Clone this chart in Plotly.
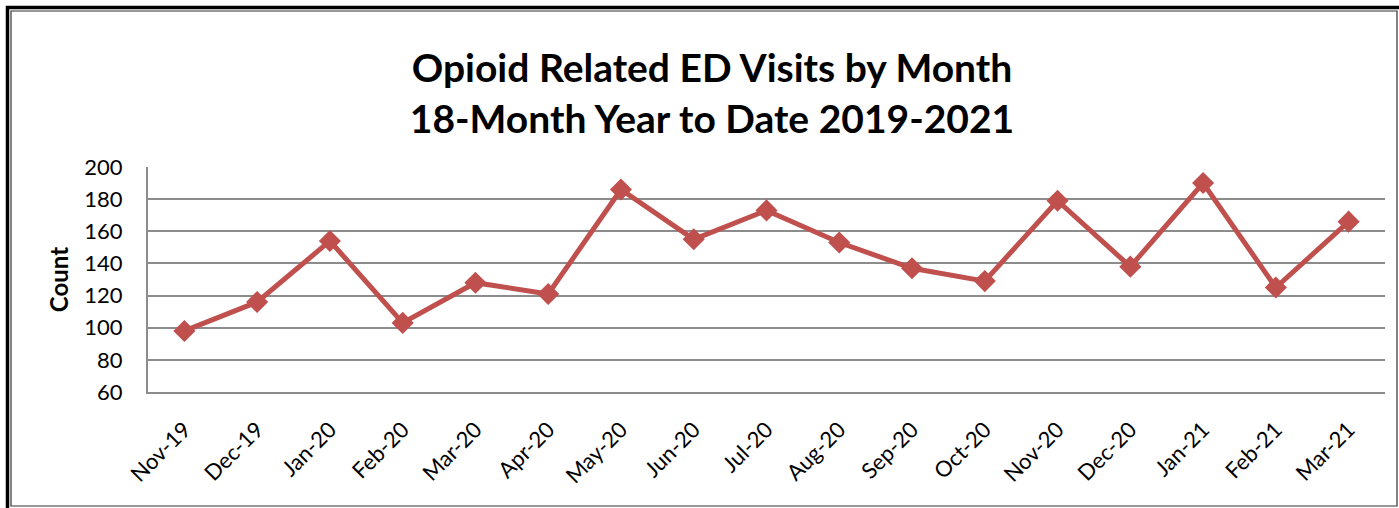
import plotly.graph_objects as go

months = ["Nov-19", "Dec-19", "Jan-20", "Feb-20", "Mar-20", "Apr-20", "May-20", "Jun-20",
          "Jul-20", "Aug-20", "Sep-20", "Oct-20", "Nov-20", "Dec-20", "Jan-21", "Feb-21", "Mar-21"]
counts = [98, 116, 154, 103, 128, 121, 186, 155, 173, 153, 137, 129, 179, 138, 190, 125, 166]
y_ticks = [60, 80, 100, 120, 140, 160, 180, 200]

W, H = 1399, 508
L, R, T, B = 148, 1385, 167, 392


def px(x):
    return (x - L) / (R - L)


def py(y):
    return (B - y) / (B - T)


fig = go.Figure()
fig.add_trace(go.Scatter(
    x=months, y=counts, mode="lines+markers",
    line=dict(color="#C0504D", width=5),
    marker=dict(symbol="diamond", size=17, color="#C0504D"),
    showlegend=False,
))

font = "Lato, Liberation Sans, sans-serif"
fig.update_layout(
    width=W, height=H,
    margin=dict(l=L, r=W - R, t=T, b=H - B, pad=0),
    paper_bgcolor="white", plot_bgcolor="white",
    font=dict(family=font, color="black", size=22),
    title=dict(
        text="<b>Opioid Related ED Visits by Month<br>18-Month Year to Date 2019-2021</b>",
        x=712 / W, xanchor="center", y=1 - 82 / H, yanchor="middle",
        font=dict(size=39, family=font, color="black"),
    ),
    xaxis=dict(
        range=[-0.5, 16.5], tickangle=-45, showgrid=False, zeroline=False,
        showline=True, linecolor="#8C8C8C", linewidth=2,
        ticks="", tickfont=dict(size=22), ticklabelstandoff=14,
    ),
    yaxis=dict(
        range=[60, 200], tickvals=y_ticks, showgrid=True, gridcolor="#8C8C8C", gridwidth=2,
        zeroline=False, showline=True, linecolor="#8C8C8C", linewidth=2,
        ticks="", ticklabelstandoff=19, tickfont=dict(size=22),
        title=dict(text="<b>Count</b>", font=dict(size=24), standoff=9),
    ),
    shapes=[
        dict(type="rect", xref="paper", yref="paper",
             x0=px(7.5), x1=px(1402), y0=py(7.5), y1=py(512),
             line=dict(color="black", width=3.5)),
        dict(type="rect", xref="paper", yref="paper",
             x0=px(11), x1=px(1397), y0=py(11), y1=py(506),
             line=dict(color="#333333", width=1.2)),
    ],
)

fig.write_html("out.html", config={"displayModeBar": False},
               post_script="document.body.style.margin='0';")
